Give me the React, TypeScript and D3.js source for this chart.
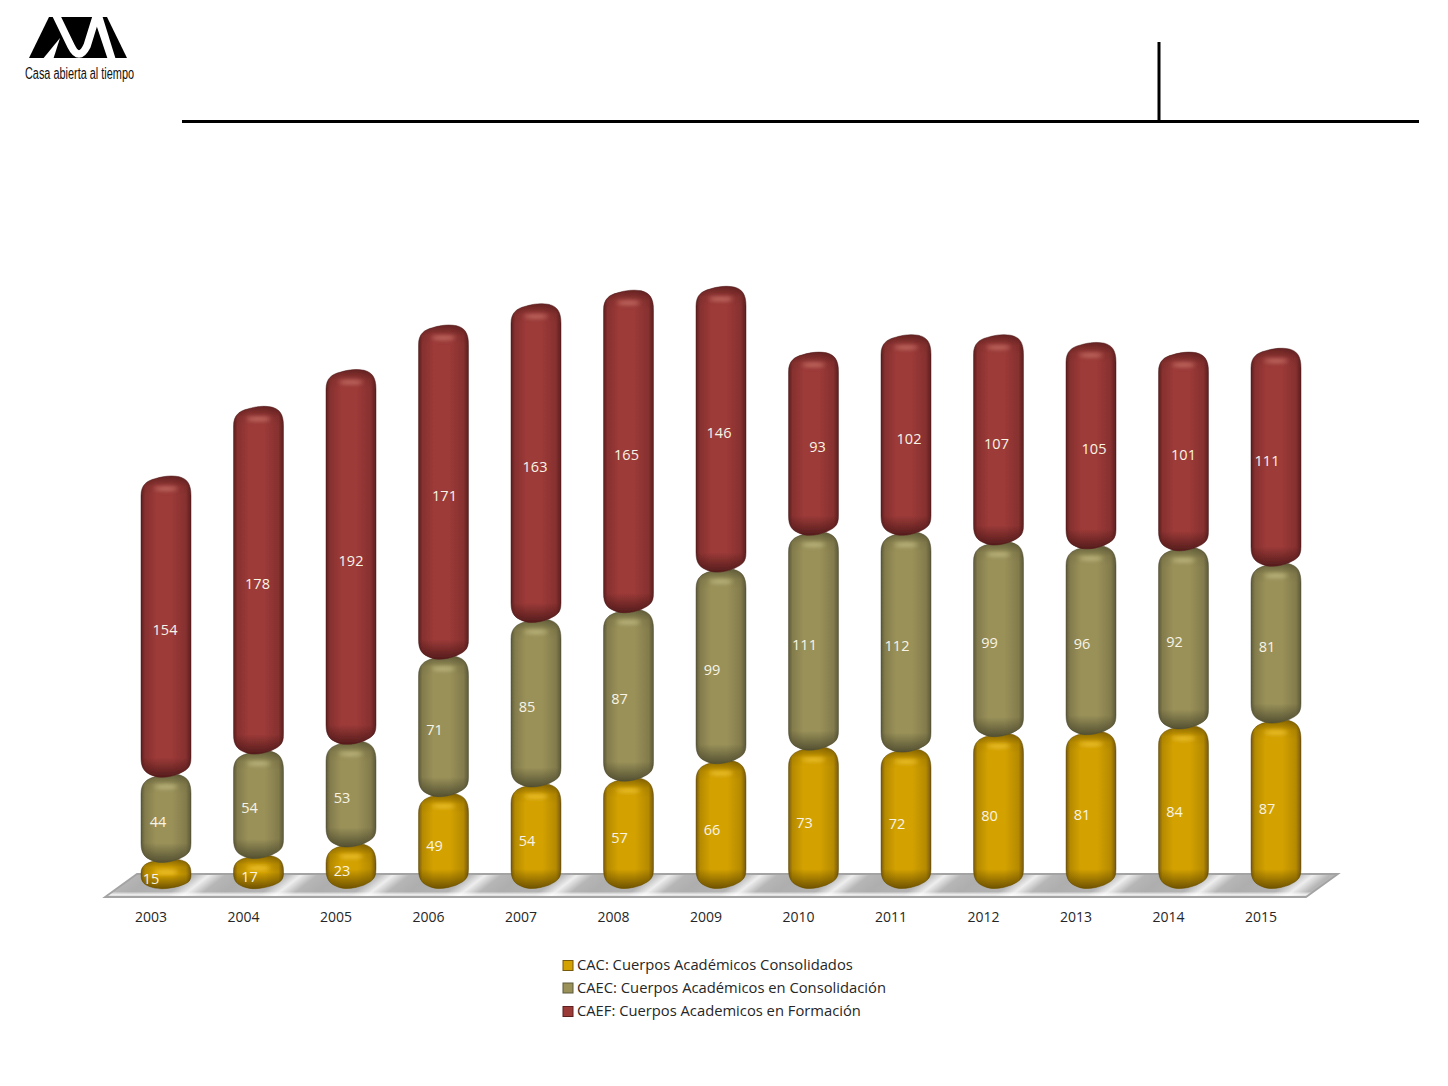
import React from 'react';
import * as d3 from 'd3';

// values
const years = ['2003', '2004', '2005', '2006', '2007', '2008', '2009', '2010', '2011', '2012', '2013', '2014', '2015'];
const cac = [15, 17, 23, 49, 54, 57, 66, 73, 72, 80, 81, 84, 87];
const caec = [44, 54, 53, 71, 85, 87, 99, 111, 112, 99, 96, 92, 81];
const caef = [154, 178, 192, 171, 163, 165, 146, 93, 102, 107, 105, 101, 111];
const legendLabels = [
  'CAC: Cuerpos Académicos Consolidados',
  'CAEC: Cuerpos Académicos en Consolidación',
  'CAEF: Cuerpos Academicos en Formación',
];

const W = 1448;
const H = 1086;
const font = '"Open Sans", "Noto Sans", sans-serif';
const barW = 50;

const palette = [
  { key: 'cac', mid: '#d4a200', side: '#b58a04', edge: '#77590a', light: '#f6cb3a', dark: '#5a4200' },
  { key: 'caec', mid: '#9a9159', side: '#837b4c', edge: '#5c5a3a', light: '#c9c289', dark: '#45432a' },
  { key: 'caef', mid: '#9c3a38', side: '#86302f', edge: '#5c2020', light: '#cf7a70', dark: '#461616' },
];

const rows = years.map((y, i) => ({ year: y, cac: cac[i], caec: caec[i], caef: caef[i] }));
const stacked = d3.stack<any>().keys(['cac', 'caec', 'caef'])(rows);

const x = d3.scalePoint<string>().domain(years).range([166, 1276]);
const y = d3.scaleLinear().domain([0, 311]).range([888, 286]);

// rounded can: domed top and bottom, slightly tilted like the 3D original
function canPath(cx: number, top: number, bottom: number) {
  const l = cx - barW / 2;
  const r = cx + barW / 2;
  const c = Math.min(20, (bottom - top) / 2 - 1); // short cans get smaller corners
  const k = c / 20;
  const path = d3.path();
  path.moveTo(l, top + c);
  path.bezierCurveTo(l, top + 9 * k, l + 6, top + 5 * k, l + 14, top + 3 * k);
  path.bezierCurveTo(l + 22, top + 0.5, l + 30, top - 0.5, r - 12, top + k);
  path.bezierCurveTo(r - 4, top + 3 * k, r, top + 8 * k, r, top + c);
  path.lineTo(r, bottom - c);
  path.bezierCurveTo(r, bottom - 10 * k, r - 4, bottom - 8 * k, r - 12, bottom - 4 * k);
  path.bezierCurveTo(r - 20, bottom - k, l + 20, bottom + 1, l + 12, bottom - 2 * k);
  path.bezierCurveTo(l + 4, bottom - 5 * k, l, bottom - 9 * k, l, bottom - c);
  path.closePath();
  return path.toString();
}

const caefLabelDx = [-1, -1, 0, 1, -1, -2, -2, 4, 3, -2, 3, 0, -9];

function labelDx(series: number, i: number) {
  if (series === 2) return caefLabelDx[i];
  if (i === 0) return series === 0 ? -15 : -8;
  return -9;
}

export default function App() {
  const floorX = [105, 1306, 1338, 137];
  const floorY = [897, 897, 874, 874];
  const floor = floorX.map((fx, i) => `${fx},${floorY[i]}`).join(' ');

  return (
    <svg width={W} height={H} style={{ position: 'absolute', left: 0, top: 0, background: '#fff' }} fontFamily={font}>
      <defs>
        {palette.map((p) => (
          <linearGradient key={p.key} id={`body-${p.key}`} x1="0" x2="1" y1="0" y2="0">
            <stop offset="0" stopColor={p.edge} />
            <stop offset="0.08" stopColor={p.side} />
            <stop offset="0.3" stopColor={p.mid} />
            <stop offset="0.62" stopColor={p.mid} />
            <stop offset="0.9" stopColor={p.side} />
            <stop offset="1" stopColor={p.edge} />
          </linearGradient>
        ))}
        <linearGradient id="floor" gradientUnits="userSpaceOnUse" x1="0" y1="0" x2="92" y2="0" spreadMethod="repeat" gradientTransform="skewX(-52) translate(630 0)">
          <stop offset="0" stopColor="#aeaeae" />
          <stop offset="0.42" stopColor="#b4b4b4" />
          <stop offset="0.6" stopColor="#eeeeee" />
          <stop offset="0.78" stopColor="#b6b6b6" />
          <stop offset="1" stopColor="#aeaeae" />
        </linearGradient>
        <linearGradient id="floorSheen" x1="0" x2="0" y1="0" y2="1">
          <stop offset="0.76" stopColor="#fff" stopOpacity="0" />
          <stop offset="0.9" stopColor="#fff" stopOpacity="0.8" />
          <stop offset="1" stopColor="#fff" stopOpacity="0.3" />
        </linearGradient>
        <filter id="soft" x="-50%" y="-200%" width="200%" height="500%">
          <feGaussianBlur stdDeviation="2.2" />
        </filter>
        <filter id="blurEdge" x="-10%" y="-10%" width="120%" height="120%">
          <feGaussianBlur stdDeviation="0.5" />
        </filter>
      </defs>

      {/* logo */}
      <g>
        <polygon points="29,58 49,17 107,17 127,58" fill="#000" />
        <path d="M55,13 L71,46 Q79,62 87,46 L96,17" fill="none" stroke="#fff" strokeWidth="7.5" />
        <polygon points="42,60 53,60 60,38" fill="#fff" />
        <polygon points="93,15 102,15 116,60 108,60" fill="#fff" />
        <text x={25} y={79} fontSize={16} fontFamily='"Liberation Sans Narrow", "Liberation Sans", sans-serif' textLength={109} lengthAdjust="spacingAndGlyphs" fill="#111">
          Casa abierta al tiempo
        </text>
      </g>

      {/* header rules */}
      <line x1={182} x2={1419} y1={121.5} y2={121.5} stroke="#000" strokeWidth={3} />
      <line x1={1159} x2={1159} y1={42} y2={121} stroke="#000" strokeWidth={3} />

      {/* floor */}
      <polygon points={floor} fill="url(#floor)" />
      <polygon points={floor} fill="url(#floorSheen)" />
      <polygon points={floor} fill="none" stroke="#a3a3a3" strokeWidth={1.8} />

      {/* cans, bottom segment first so each upper one overlaps the one below */}
      {stacked.map((s, si) => {
        const p = palette[si];
        return s.map((d, i) => {
          const cx = x(years[i])!;
          const top = y(d[1]);
          const bottom = si === 0 ? y(0) + 1 : y(d[0]) + 4;
          const id = `shade-${si}-${i}`;
          const band = Math.min(20, (bottom - top) / 2);
          return (
            <g key={id} filter="url(#blurEdge)">
              <linearGradient id={id} gradientUnits="userSpaceOnUse" x1="0" x2="0" y1={top} y2={bottom}>
                <stop offset="0" stopColor={p.dark} stopOpacity="0.65" />
                <stop offset={(band * 0.55) / (bottom - top)} stopColor={p.dark} stopOpacity="0.1" />
                <stop offset={band / (bottom - top)} stopColor={p.dark} stopOpacity="0" />
                <stop offset={1 - band / (bottom - top)} stopColor={p.dark} stopOpacity="0" />
                <stop offset="1" stopColor={p.dark} stopOpacity="0.85" />
              </linearGradient>
              <path d={canPath(cx, top, bottom)} fill={`url(#body-${p.key})`} stroke={p.dark} strokeOpacity={0.55} strokeWidth={0.8} />
              <path d={canPath(cx, top, bottom)} fill={`url(#${id})`} />
              <ellipse cx={cx} cy={top + 13} rx={12} ry={2} fill={p.light} opacity={0.85} filter="url(#soft)" />
            </g>
          );
        });
      })}

      {/* value labels */}
      {stacked.map((s, si) =>
        s.map((d, i) => (
          <text
            key={`${si}-${i}`}
            x={x(years[i])! + labelDx(si, i)}
            y={(y(d[0]) + y(d[1])) / 2 + 5.5}
            dy="0.35em"
            textAnchor="middle"
            fontSize={14.5}
            fill="#f8f4e6"
          >
            {d[1] - d[0]}
          </text>
        )),
      )}

      {/* year labels */}
      {years.map((yr) => (
        <text key={yr} x={x(yr)! - 15} y={917} dy="0.35em" textAnchor="middle" fontSize={14} fill="#262626">
          {yr}
        </text>
      ))}

      {/* legend */}
      {legendLabels.map((label, i) => {
        const ly = [965, 987.5, 1011][i];
        return (
          <g key={label}>
            <rect x={563} y={ly - 4.5} width={10} height={10} fill={palette[i].mid} stroke={palette[i].edge} strokeWidth={1} />
            <text x={577} y={ly} dy="0.35em" fontSize={14.75} fill="#262626">
              {label}
            </text>
          </g>
        );
      })}
    </svg>
  );
}
